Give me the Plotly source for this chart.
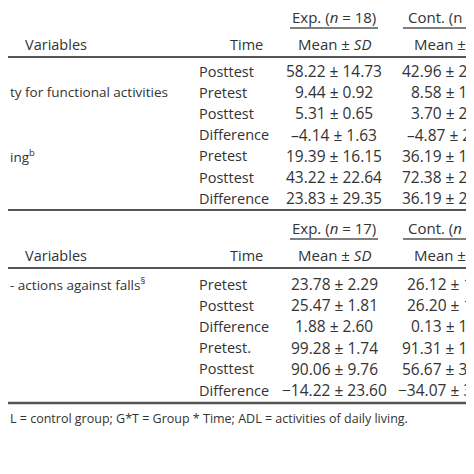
import plotly.graph_objects as go

FONT = "Open Sans"
COL = "#333333"

# Section 1
time1 = ["Posttest", "Pretest", "Posttest", "Difference", "Pretest", "Posttest", "Difference"]
exp1 = ["58.22 ± 14.73", "9.44 ± 0.92", "5.31 ± 0.65", "–4.14 ± 1.63", "19.39 ± 16.15", "43.22 ± 22.64", "23.83 ± 29.35"]
cont1 = ["42.96 ± 22.31", "8.58 ± 1.41", "3.70 ± 2.61", "–4.87 ± 2.52", "36.19 ± 19.22", "72.38 ± 21.71", "36.19 ± 26.81"]
var1 = {1: "ty for functional activities", 4: "ing<sup>b</sup>"}
# Section 2
time2 = ["Pretest", "Posttest", "Difference", "Pretest.", "Posttest", "Difference"]
exp2 = ["23.78 ± 2.29", "25.47 ± 1.81", "1.88 ± 2.60", "99.28 ± 1.74", "90.06 ± 9.76", "−14.22 ± 23.60"]
cont2 = ["26.12 ± 1.75", "26.20 ± 1.37", "0.13 ± 1.72", "91.31 ± 13.72", "56.67 ± 30.81", "−34.07 ± 30.51"]
var2 = {0: "- actions against falls<sup>§</sup>"}
groups1 = ["Exp. (<i>n</i> = 18)", "Cont. (n = 17)"]
groups2 = ["Exp. (<i>n</i> = 17)", "Cont. (<i>n</i> = 15)"]
footnote = "L = control group; G*T = Group * Time; ADL = activities of daily living."

fig = go.Figure()
ann = []
shapes = []

def txt(x, y, s, anchor="center", size=14):
    ann.append(dict(x=x, y=y, text=s, xref="x", yref="y", showarrow=False,
                    xanchor=anchor, yanchor="middle",
                    font=dict(family=FONT, size=size, color=COL)))

def line(x0, x1, y, w):
    shapes.append(dict(type="line", xref="x", yref="y", x0=x0, x1=x1, y0=y, y1=y,
                       line=dict(color="#555", width=w)))

def section(ytop, groups, times, exps, conts, vars_, y_first, ybottom, wbottom):
    txt(326, ytop, groups[0], size=15); txt(446, ytop, groups[1], size=15)
    line(282, 370, ytop + 11, 1.5); line(395, 480, ytop + 11, 1.5)
    txt(48, ytop + 27, "Variables", size=14.5); txt(238, ytop + 27, "Time", size=14.5)
    txt(326, ytop + 27, "Mean ± <i>SD</i>", size=15); txt(442, ytop + 27, "Mean ± <i>SD</i>", size=15)
    line(0, 480, ytop + 40, 2)
    for i, (t, e, c) in enumerate(zip(times, exps, conts)):
        y = y_first + i * 21.2
        txt(189, y, t, "left", 14.5); txt(326, y, e, size=15.5); txt(442, y, c, size=15.5)
        if i in vars_:
            txt(0, y, vars_[i], "left", 13.5)
    line(0, 480, ybottom, wbottom)

section(9, groups1, time1, exp1, cont1, var1, 63, 202, 2)
section(220, groups2, time2, exp2, cont2, var2, 276, 395, 2.5)
txt(0, 410, footnote, "left", 12.5)

fig.update_layout(width=474, height=474, margin=dict(l=0, r=0, t=0, b=0),
                  paper_bgcolor="white", plot_bgcolor="white",
                  xaxis=dict(range=[0, 474], visible=False, fixedrange=True),
                  yaxis=dict(range=[474, 0], visible=False, fixedrange=True),
                  annotations=ann, shapes=shapes, showlegend=False)
fig.write_html("out.html", config={"displayModeBar": False})
